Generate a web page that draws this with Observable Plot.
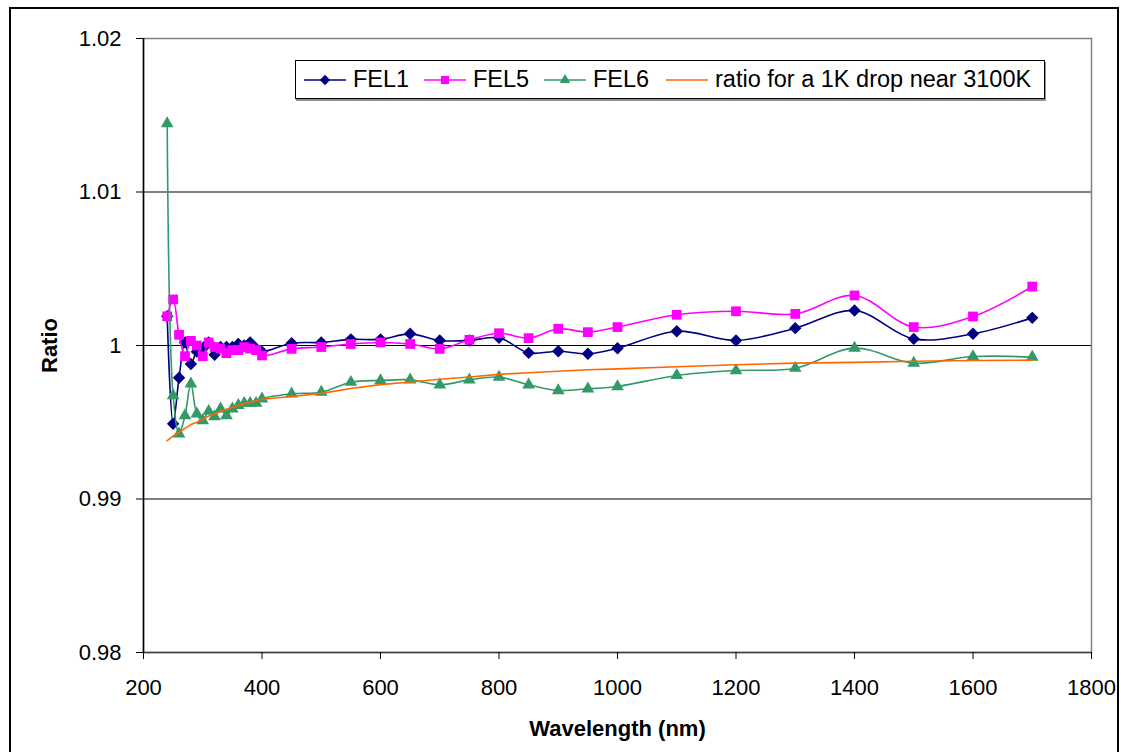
<!DOCTYPE html>
<html>
<head>
<meta charset="utf-8">
<script src="https://cdn.jsdelivr.net/npm/d3@7"></script>
<script src="https://cdn.jsdelivr.net/npm/@observablehq/plot@0.6"></script>
<style>
  html, body { margin: 0; padding: 0; background: #fff; }
  #wrap { position: relative; width: 1121px; height: 752px; overflow: hidden; font-family: "Liberation Sans", Arial, sans-serif; }
  #outer { position: absolute; left: 9px; top: 7px; width: 1106px; height: 800px; border: 2px solid #000; pointer-events: none; }
  #legend { position: absolute; left: 295px; top: 60px; width: 748px; height: 37px; border: 1px solid #000; background: #fff; box-shadow: 1px 2px 0 #909090; font-size: 23.5px; }
  #legend .item { position: absolute; top: 0; height: 37px; display: flex; align-items: center; white-space: nowrap; }
  #legend svg { display: block; }
</style>
</head>
<body>
<div id="wrap">
  <div id="chart"></div>
  <div id="legend"></div>
  <div id="outer"></div>
</div>
<script>
// ---- data ----
const wavelengths = [240,250,260,270,280,290,300,310,320,330,340,350,360,370,380,390,400,
  450,500,550,600,650,700,750,800,850,900,950,1000,1100,1200,1300,1400,1500,1600,1700];
const fel1 = [1.0019,0.9949,0.9979,1.0002,0.9988,0.9996,0.9998,1.0002,0.9994,0.9999,0.9999,0.9999,1.0001,1.0000,1.0002,0.9998,0.9996,
  1.00015,1.0002,1.0004,1.0004,1.00076,1.00033,1.00033,1.0005,0.99952,0.99963,0.99946,0.99982,1.00093,1.00033,1.00113,1.00228,1.00043,1.00076,1.0018];
const fel5 = [1.0019,1.0030,1.0007,0.9993,1.0003,1.0000,0.9993,1.0002,0.9999,0.9998,0.9995,0.9997,0.9997,0.9999,0.9998,0.9997,0.99935,
  0.99978,0.9999,1.0001,1.0002,1.0001,0.99978,1.00037,1.0008,1.00048,1.00109,1.00087,1.0012,1.002,1.00223,1.00206,1.00326,1.0012,1.00189,1.00384];
const fel6 = [1.01446,0.99674,0.99425,0.99544,0.9975,0.99555,0.99511,0.99572,0.99537,0.99587,0.99544,0.99587,0.9961,0.99624,0.99624,0.99624,0.99653,
  0.99685,0.99696,0.99761,0.99772,0.99776,0.99744,0.99776,0.99794,0.99744,0.99707,0.99718,0.99733,0.99805,0.99837,0.99852,0.99983,0.99885,0.99928,0.99924];
const ratio1K = [0.9938,0.9941,0.99435,0.9946,0.99485,0.995,0.9952,0.9954,0.99555,0.9957,0.99585,0.99598,0.9961,0.9962,0.9963,0.9964,0.9965,
  0.99668,0.99688,0.9972,0.99745,0.99762,0.9978,0.99795,0.99812,0.99822,0.99832,0.99842,0.99848,0.99862,0.99875,0.99885,0.9989,0.99897,0.99902,0.99905];

const seriesNames = ["FEL1", "FEL5", "FEL6", "ratio for a 1K drop near 3100K"];
const seriesValues = [fel1, fel5, fel6, ratio1K];
const seriesColors = ["#000080", "#FF00FF", "#339966", "#FF6600"];
const seriesSymbols = ["diamond2", "square", "triangle", null];
const seriesR = [5.6, 5.5, 4.7, 0];

const xTicks = [200,400,600,800,1000,1200,1400,1600,1800];
const yTicks = [0.98,0.99,1,1.01,1.02];
const yGridLines = [0.99,1,1.01];

// ---- build ----
const rows = [];
seriesNames.forEach((name, i) => {
  wavelengths.forEach((w, j) => rows.push({series: name, idx: i, wavelength: w, ratio: seriesValues[i][j]}));
});

const marks = [
  Plot.ruleY(yGridLines, {stroke: "#000", strokeWidth: 1}),
  Plot.frame({stroke: "#808080", strokeWidth: 1.5}),
  Plot.ruleX([200], {stroke: "#000", strokeWidth: 1.5}),
  Plot.ruleY([0.98], {stroke: "#404040", strokeWidth: 1.5}),
  Plot.axisX({ticks: xTicks, tickSize: 7, tickPadding: 20, fontSize: 22, tickFormat: d => String(d),
    label: "Wavelength (nm)", labelAnchor: "center", labelOffset: 83, labelArrow: "none"}),
  Plot.axisY({ticks: yTicks, tickSize: 7, tickPadding: 15, fontSize: 22, tickFormat: d => String(+d.toFixed(2)),
    label: "Ratio", labelAnchor: "center", labelOffset: 102, labelArrow: "none"})
];
// series drawn in legend order: later series on top
[0, 1, 2, 3].forEach(i => {
  const data = rows.filter(r => r.idx === i);
  marks.push(Plot.line(data, {x: "wavelength", y: "ratio", stroke: seriesColors[i], strokeWidth: 1.6,
    curve: i === 3 ? "linear" : "catmull-rom"}));
  if (seriesSymbols[i]) {
    marks.push(Plot.dot(data, {x: "wavelength", y: "ratio", symbol: () => seriesSymbols[i], fill: seriesColors[i],
      stroke: "none", r: seriesR[i]}));
  }
});

const chart = Plot.plot({
  width: 1121,
  height: 752,
  marginLeft: 143,
  marginRight: 30,
  marginTop: 38,
  marginBottom: 100,
  style: {fontFamily: "'Liberation Sans', Arial, sans-serif", fontSize: "22px", color: "#000", background: "transparent"},
  x: {domain: [200, 1800], axis: null},
  y: {domain: [0.98, 1.02], axis: null},
  symbol: {type: "identity"},
  marks
});
document.getElementById("chart").appendChild(chart);

// bold axis titles
chart.querySelectorAll('g[aria-label="x-axis label"], g[aria-label="y-axis label"]').forEach(g => {
  g.setAttribute("font-weight", "bold");
  g.setAttribute("font-size", "22");
});
chart.querySelectorAll('g[aria-label="x-axis tick"], g[aria-label="y-axis tick"]').forEach(g => {
  g.setAttribute("stroke", "#000");
});

// ---- legend ----
const legend = document.getElementById("legend");
const itemLeft = [8, 128, 248, 370];
const textGap = [7, 7, 7, 7];
seriesNames.forEach((name, i) => {
  const item = document.createElement("div");
  item.className = "item";
  item.style.left = itemLeft[i] + "px";
  const sw = d3.create("svg").attr("width", 42).attr("height", 20);
  sw.append("line").attr("x1", 0).attr("x2", 42).attr("y1", 10).attr("y2", 10)
    .attr("stroke", seriesColors[i]).attr("stroke-width", 1.6);
  if (seriesSymbols[i]) {
    const sym = {diamond2: d3.symbolDiamond2, square: d3.symbolSquare, triangle: d3.symbolTriangle}[seriesSymbols[i]];
    const size = Math.PI * seriesR[i] * seriesR[i] * 0.7;
    sw.append("path").attr("d", d3.symbol(sym, size)()).attr("transform", "translate(21,10)").attr("fill", seriesColors[i]);
  }
  item.appendChild(sw.node());
  const t = document.createElement("span");
  t.textContent = name;
  t.style.marginLeft = textGap[i] + "px";
  item.appendChild(t);
  legend.appendChild(item);
});
</script>
</body>
</html>
